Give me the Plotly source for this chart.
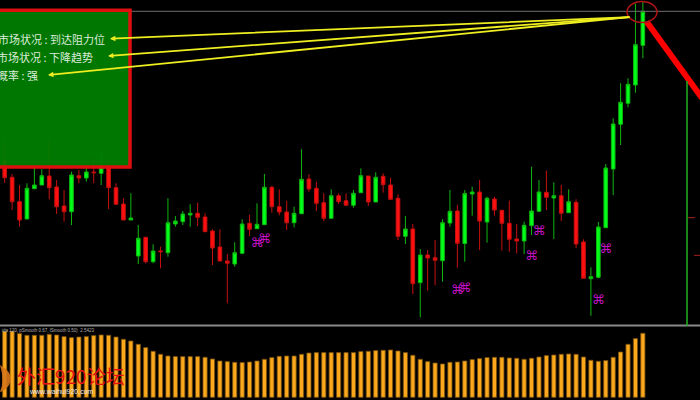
import plotly.graph_objects as go

# Candle series (price units)
open_ = [239.3,222.7,198.3,181,211.3,215,224,213,194,188.3,224.3,222,228,226.7,232.7,212.3,196,180,144,162.7,138.3,149,147.3,176,178.3,185,186.7,183,169,153,139,136,146.7,176.7,171.3,175.3,212.7,193.3,188,177.3,186.3,221,211.7,197.3,181.7,204.3,199.3,194.7,207.3,224,198,223.7,215,201.7,163.7,171,117.3,145,142.3,139.3,177,189,156.5,206,208,178,201,189.7,176.7,161,159,174.3,188.7,207.7,202,204.3,187.3,197.7,158,121.3,122.7,172.3,231,275.7,296.7,315,354.7]
close = [222.3,198.3,180,211.7,215,224.3,212.3,193.3,188.3,225,222,228,227.3,232.7,212.3,195.7,180,182,161.7,138.3,149,148.3,177.3,179,186,186.7,182.7,168.3,152,139,136.7,147.3,176,170.7,175.7,212.7,193.3,188,177.3,186.7,220.7,211,196.7,181.7,204.3,198.3,194.7,206.7,224.3,198,222.7,215.3,200.7,163.7,171,116.3,145,142,139.7,177.3,188.7,156.7,206.5,208,179,201.7,190,176.7,160.7,159,174.7,189,208,202.7,204.3,186.7,198.3,156,121.7,123.3,173,232,276,297.7,315.7,355.3,388.7]
high = [260,226,215,216.7,235.7,230.7,260,220,210,228.3,230,235.7,243.3,246.7,241.7,216.7,201.7,206.7,175,162.7,155.7,153.3,201.7,184,189,195.7,197.3,186.7,170.7,170.7,146,157.7,180.7,185.3,196.7,226,214.3,210.7,199.3,193.3,250.7,225.7,218.3,206.7,210.7,206.7,206.7,210,231.7,224,227.7,226.7,222.3,205.7,184,176,151,150,160,180.7,210,195,210,213.3,220,203.3,203.3,189.7,199.3,176,178.3,233.3,220,229.3,217.7,215,210.7,200.7,160.7,132.7,178,236,281.7,316.7,321.7,396.7,399]
low = [217,190,173.3,181,211.3,215,200.7,186,178.3,175,216.7,218.3,216.7,215,191,195.7,180,180,136,136.7,136.7,131.7,143.3,173.3,175,173.3,174,168.3,135,139,96.7,133.3,146.7,164,171.3,175.3,187.3,184.7,170,172.7,186.3,208.3,189,179,181.7,196,194.7,192.3,207.3,194,198,207.3,200.7,160,156,106,82.7,109.3,114.7,118.3,173.3,132.3,138.3,184.3,150,157.3,184.3,149.3,148.3,146.7,146,165,188.7,190,161,179,187.3,151.7,121.7,84.3,121.7,172.3,205,255,292.7,307.3,341.7]
oscillator = [66,66,63.7,62,62,62,63,62.3,60.7,59.7,60.3,60.7,61.7,62.3,62,60.3,58,56.3,53,49.7,46,43,41.3,40.7,40.7,40.7,40.7,40,38.3,36.3,35.7,35,34.7,35.3,36.3,38,39.7,41,41.3,41.3,43,44.3,44.7,44.7,44.7,44.7,44.7,44.7,45.7,46,46.7,47,47.3,46.3,44.7,42,38,35.7,34.3,33.3,35,35.3,36.3,37.7,38.7,39.7,40,40,39.3,39,38,39,40.3,41.7,42.3,43,43.3,43,40.3,37,36,36.7,40,45.3,53,58.7,64]
signal_index = [34,35,61,62,71,72,80,81]
signal_price = [156.7,160,109.3,111.7,143.3,168.7,99.7,150.3]
panel_labels = ["市场状况 : 到达阻力位", "市场状况 : 下降趋势", "概率 : 强"]
osc_label = "ida 120, pSmooth 0.67, lSmooth 0.50)  2.5423"
watermark = "外汇920论坛"
site = "www.waihui920.com"

W, H = 700, 400
px = lambda x: x / W
py = lambda y: 1 - y / H
idx = list(range(len(open_)))

fig = go.Figure()
fig.add_trace(go.Candlestick(
    x=idx, open=open_, high=high, low=low, close=close, yaxis="y",
    increasing=dict(line=dict(color="#0fb80f", width=1), fillcolor="#00ff1a"),
    decreasing=dict(line=dict(color="#c81010", width=1), fillcolor="#ff1010"),
    whiskerwidth=0, showlegend=False))
fig.add_trace(go.Scatter(
    x=signal_index, y=signal_price, mode="text", text=["⌘"] * len(signal_index),
    textfont=dict(family="DejaVu Sans", size=13, color="#c010c0"), yaxis="y", showlegend=False))
fig.add_trace(go.Bar(
    x=idx, y=oscillator, yaxis="y2", width=0.56, showlegend=False,
    marker=dict(color="#fba81c", line=dict(color="#7a5012", width=0.8))))

shapes = [
    dict(type="line", xref="paper", yref="paper", x0=px(131), x1=1, y0=py(11.3), y1=py(11.3),
         line=dict(color="#6e6e6e", width=1)),
    dict(type="line", xref="paper", yref="paper", x0=0, x1=1, y0=py(325.6), y1=py(325.6),
         line=dict(color="#8a8a8a", width=2)),
    dict(type="rect", xref="paper", yref="paper", x0=px(-5), x1=px(130), y0=py(167), y1=py(10.3),
         fillcolor="rgba(0,128,0,0.93)", line=dict(color="#e00f0f", width=3.5)),
    dict(type="line", xref="paper", yref="paper", x0=px(646.7), x1=px(702), y0=py(21.7), y1=py(98),
         line=dict(color="#ff0000", width=6)),
    dict(type="circle", xref="paper", yref="paper", x0=px(627), x1=px(657), y0=py(22.5), y1=py(1.5),
         line=dict(color="#b01414", width=1.5)),
    dict(type="line", xref="paper", yref="paper", x0=px(687), x1=px(687), y0=py(81), y1=py(326),
         line=dict(color="#22b022", width=1.5)),
    dict(type="line", xref="paper", yref="paper", x0=px(688), x1=px(695), y0=py(217.7), y1=py(217.7),
         line=dict(color="#a82020", width=1)),
    dict(type="line", xref="paper", yref="paper", x0=px(694), x1=px(700), y0=py(255.3), y1=py(255.3),
         line=dict(color="#a82020", width=1)),
    # orange logo swoosh behind the watermark, pixel-placed on the paper
    dict(type="path", xref="paper", yref="paper", layer="above", line=dict(width=0),
         fillcolor="rgba(214,118,26,0.9)",
         path=f"M {px(0)} {py(365)} Q {px(12)} {py(372)} {px(11)} {py(380)} "
              f"Q {px(8)} {py(390)} {px(0)} {py(392)} Q {px(5)} {py(381)} {px(0)} {py(365)} Z"),
]
annotations = []
for (tx, ty) in [(110, 38.7), (108, 56), (48, 75)]:
    annotations.append(dict(xref="paper", yref="paper", x=px(tx), y=py(ty), ax=631 - tx, ay=17 - ty,
                            axref="pixel", ayref="pixel", text="", showarrow=True,
                            arrowhead=2, arrowsize=0.6, arrowwidth=1.8, arrowcolor="#eeee20"))
for label, right, ty in zip(panel_labels, [106.5, 95, 40], [38.7, 57, 75.5]):
    annotations.append(dict(xref="paper", yref="paper", x=px(right), y=py(ty), xanchor="right", yanchor="middle",
                            text=label, showarrow=False,
                            font=dict(family="Noto Sans CJK SC", size=11, color="#dcecdc")))
annotations += [
    dict(xref="paper", yref="paper", x=px(0), y=py(330.5), xanchor="left", yanchor="middle", text=osc_label,
         showarrow=False, font=dict(family="Liberation Sans", size=4.5, color="#b0b0b0")),
    dict(xref="paper", yref="paper", x=px(71), y=py(375), xanchor="center", yanchor="middle", text=watermark,
         showarrow=False, font=dict(family="Noto Sans CJK SC", size=19, color="#e81010")),
    dict(xref="paper", yref="paper", x=px(61), y=py(391), xanchor="center", yanchor="middle", text=site,
         showarrow=False, font=dict(family="Liberation Sans", size=7, color="#e8e8e8")),
]

fig.update_layout(
    width=W, height=H, margin=dict(l=0, r=0, t=0, b=0),
    paper_bgcolor="#000000", plot_bgcolor="#000000", boxgap=0.3,
    xaxis=dict(range=[-0.633, 93.7], visible=False, rangeslider=dict(visible=False), fixedrange=True),
    yaxis=dict(domain=[75 / 400, 1], range=[75, 400], visible=False, fixedrange=True),
    yaxis2=dict(domain=[0, 75 / 400], range=[-2.7, 72.3], visible=False, fixedrange=True),
    shapes=shapes, annotations=annotations, hovermode=False,
)
fig.write_html("out.html", config={"displayModeBar": False},
               post_script="document.body.style.margin='0';document.body.style.background='#000';document.documentElement.style.overflow='hidden';")
